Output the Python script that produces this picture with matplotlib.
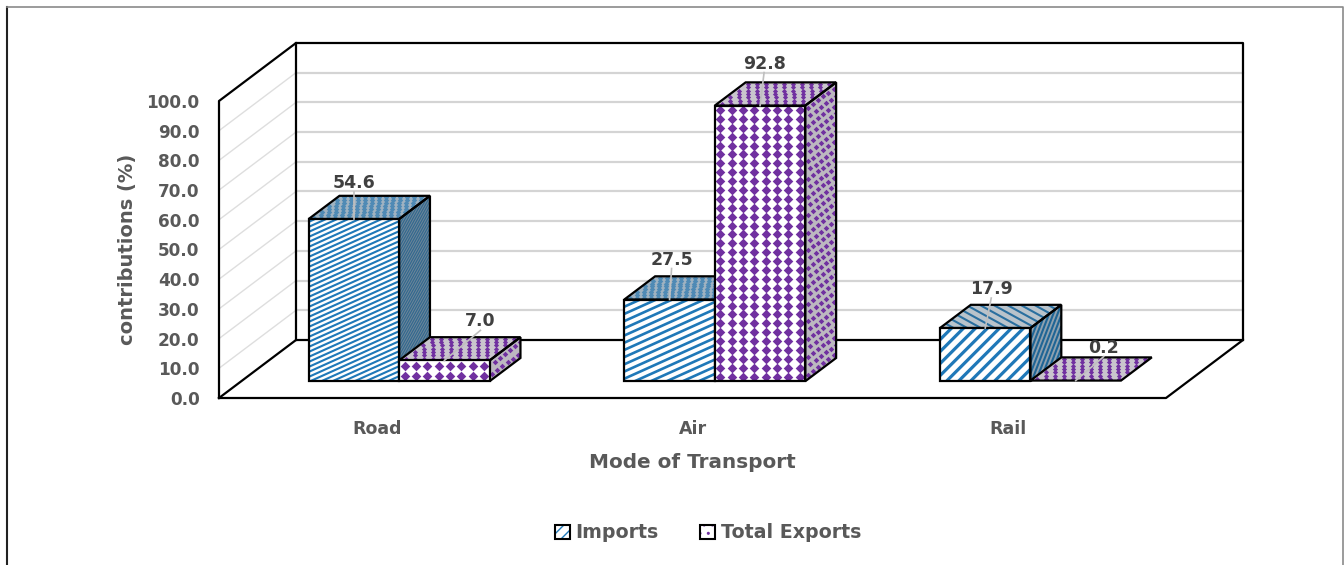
import matplotlib
matplotlib.use("Agg")
import matplotlib.pyplot as plt
from matplotlib.patches import Polygon, Patch, Rectangle
from matplotlib.collections import LineCollection
from matplotlib.legend_handler import HandlerPatch
from matplotlib.transforms import IdentityTransform
import numpy as np

categories = ["Road", "Air", "Rail"]
imports = [54.6, 27.5, 17.9]
exports = [7.0, 92.8, 0.2]
imports_labels = ["54.6", "27.5", "17.9"]
exports_labels = ["7.0", "92.8", "0.2"]
yticks = [0, 10, 20, 30, 40, 50, 60, 70, 80, 90, 100]
series_names = ["Imports", "Total Exports"]
# label offsets from the front-top centre of each bar, in pixels
imports_offset = [(0, 36), (2, 40), (6, 39)]
exports_offset = [(36, 39), (4, 42), (28, 33)]
# front-face stripe style for the imports: slope (dy/dx), vertical spacing px, width pt
imports_stripes = [(0.45, 5.0, 1.5), (0.45, 7.2, 1.9), (1.0, 12.0, 2.3)]

W, H = 1344, 565
plt.rcParams["font.family"] = ["DejaVu Sans"]
plt.rcParams["font.weight"] = "bold"
TXT = "#595959"
BLUE = "#1f78b8"
PURPLE = "#7030a0"

fig = plt.figure(figsize=(W / 100, H / 100), dpi=100, facecolor="white")
L, R, T, B = 219, 1166, 101, 398
ax = fig.add_axes([L / W, 1 - B / H, (R - L) / W, (B - T) / H])
ax.set_xlim(0, 3)
ax.set_ylim(0, 100)
ax.patch.set_visible(False)
for s in ax.spines.values():
    s.set_visible(False)

DX = 77 / ((R - L) / 3)
DY = 58 / ((B - T) / 100)


def P(x, v, z):
    return (x + z * DX, v + z * DY)


def face(pts, fc, z, lw=0.0):
    p = Polygon(pts, closed=True, facecolor=fc, edgecolor="black", linewidth=lw,
                zorder=z, clip_on=False, joinstyle="miter")
    ax.add_patch(p)
    return p


def stripes(patch, pts, slope, spacing, lw, color, z):
    """Clipped parallel lines across a face, set out in display pixels."""
    d = ax.transData.transform(pts)
    x0, x1 = d[:, 0].min(), d[:, 0].max()
    y0, y1 = d[:, 1].min(), d[:, 1].max()
    c0 = y0 - slope * x1 - spacing
    c1 = y1 - slope * x0 + spacing
    if slope < 0:
        c0, c1 = y0 - slope * x0 - spacing, y1 - slope * x1 + spacing
    segs = [[(x0, slope * x0 + c), (x1, slope * x1 + c)] for c in np.arange(c0, c1, spacing)]
    lc = LineCollection(segs, colors=color, linewidths=lw, transform=IdentityTransform(), zorder=z)
    ax.add_collection(lc, autolim=False)
    lc.set_clip_path(patch)


def dots(patch, pts, dx, dy, size, color, z, marker="D", stagger=0.0):
    """Clipped grid of filled marks across a face, set out along its two edges."""
    d = ax.transData.transform(pts)
    o, e1, e2 = d[0], d[1] - d[0], d[3] - d[0]
    n1 = max(1, int(round(np.hypot(*e1) / dx)))
    n2 = max(1, int(round(np.hypot(*e2) / dy)))
    xy = []
    for j in range(n2):
        for i in range(n1 + 1):
            u = (i + 0.5 + (stagger if j % 2 else 0)) / n1
            xy.append(o + u * e1 + (j + 0.5) / n2 * e2)
    xy = np.array(xy)
    sc = ax.scatter(xy[:, 0], xy[:, 1], s=size, c=color, marker=marker, linewidths=0,
                    transform=IdentityTransform(), zorder=z)
    sc.set_clip_path(patch)


def outline(pts, z):
    ax.add_patch(Polygon(pts, closed=True, fill=False, edgecolor="black", linewidth=1.6,
                         zorder=z, clip_on=False, joinstyle="miter"))


# gridlines
for v in yticks[1:-1]:
    ax.plot(*zip(P(0, v, 0), P(0, v, 1)), color="#dedede", lw=1.0, zorder=1, clip_on=False)
    ax.plot(*zip(P(0, v, 1), P(3, v, 1)), color="#d4d4d4", lw=1.6, zorder=1, clip_on=False)

wall = dict(color="black", lw=1.6, zorder=2, clip_on=False, solid_capstyle="projecting")
ax.plot(*zip(P(0, 0, 0), P(0, 100, 0), P(0, 100, 1), P(3, 100, 1), P(3, 0, 1), P(3, 0, 0), P(0, 0, 0)), **wall)
ax.plot(*zip(P(0, 0, 0), P(0, 0, 1), P(3, 0, 1)), **wall)
ax.plot(*zip(P(0, 0, 1), P(0, 100, 1)), **wall)

BW = 90.5 / ((R - L) / 3)
Z0, Z1 = 0.29, 0.69


def faces(x0, v):
    x1 = x0 + BW
    top = [P(x0, v, Z0), P(x1, v, Z0), P(x1, v, Z1), P(x0, v, Z1)]
    side = [P(x1, 0, Z0), P(x1, 0, Z1), P(x1, v, Z1), P(x1, v, Z0)]
    front = [P(x0, 0, Z0), P(x1, 0, Z0), P(x1, v, Z0), P(x0, v, Z0)]
    return front, side, top


def imports_bar(x0, v, st):
    front, side, top = faces(x0, v)
    slope, sp, lw = st
    if slope == 1.0:
        p = face(top, "#b9c3cb", 3)
        stripes(p, top, -0.55, 7.5, 1.5, "#2a6f9f", 3.1)
    else:
        p = face(top, "#9fb2c1", 3)
        dots(p, top, 7, 5, 8, "#4f8ab5", 3.1, stagger=0.5)
    outline(top, 3.2)
    if slope == 1.0:
        p = face(side, "#8fa1af", 3)
        stripes(p, side, 2.6, 11.0, 1.5, "#1f6595", 3.1)
    else:
        p = face(side, "#71889a", 3)
        stripes(p, side, 1.8, 4.5, 0.9, "#33698f", 3.1)
    outline(side, 3.2)
    p = face(front, "white", 3.3)
    stripes(p, front, slope, sp, lw, BLUE, 3.4)
    outline(front, 3.5)


def exports_bar(x0, v):
    front, side, top = faces(x0, v)
    p = face(top, "#c9c5cd", 5)
    dots(p, top, 9.5, 5.5, 7, PURPLE, 5.1, stagger=0.5)
    outline(top, 5.2)
    if v > 0.5:
        p = face(side, "#bcb8c0", 5)
        dots(p, side, 6.5, 9.0, 8, PURPLE, 5.1, stagger=0.5)
        outline(side, 5.2)
        p = face(front, "white", 5.3)
        dots(p, front, 11.1, 9.0, 24, PURPLE, 5.4)
        outline(front, 5.5)


def value_label(x0, v, s, off):
    xm, ym = P(x0 + BW / 2, v, Z0)
    px, py = ax.transData.transform((xm, ym))
    tx, ty = px + off[0], py + off[1]
    ax.plot([px, tx], [py, ty - 9], color="#bfbfbf", lw=1.2, zorder=7,
            transform=IdentityTransform(), clip_on=False)
    ax.text(tx, ty, s, ha="center", va="center", fontsize=12.5, color="#404040", fontweight="bold",
            transform=IdentityTransform(), zorder=8, clip_on=False)


for i in range(len(categories)):
    c = i + 0.5
    imports_bar(c - BW, imports[i], imports_stripes[i])
    exports_bar(c, exports[i])
    value_label(c - BW, imports[i], imports_labels[i], imports_offset[i])
    value_label(c, exports[i], exports_labels[i], exports_offset[i])

ax.set_yticks(yticks)
ax.set_yticklabels([f"{v:.1f}" for v in yticks], fontsize=12.2, color=TXT, fontweight="bold")
ax.set_xticks([0.5, 1.5, 2.5])
ax.set_xticklabels(categories, fontsize=12.5, color=TXT, fontweight="bold")
ax.tick_params(axis="y", length=0, pad=14)
ax.tick_params(axis="x", length=0, pad=16)
ax.set_xlabel("Mode of Transport", fontsize=14.4, color=TXT, fontweight="bold", labelpad=11)
ax.set_ylabel("contributions (%)", fontsize=14, color=TXT, fontweight="bold", labelpad=6.5)


class FramedSwatch(HandlerPatch):
    """Legend swatch: hatch in the series colour, black frame round it."""

    def create_artists(self, legend, orig, xd, yd, width, height, fontsize, trans):
        inner = Rectangle((-xd, -yd), width, height, facecolor="white", edgecolor=orig.get_edgecolor(),
                          hatch=orig.get_hatch(), linewidth=0, transform=trans)
        frame = Rectangle((-xd, -yd), width, height, fill=False, edgecolor="black",
                          linewidth=1.5, transform=trans)
        return [inner, frame]


handles = [
    Patch(facecolor="white", edgecolor=BLUE, hatch="///", label=series_names[0]),
    Patch(facecolor="white", edgecolor=PURPLE, hatch="..", label=series_names[1]),
]
leg = fig.legend(handles=handles, loc="center", bbox_to_anchor=(708 / W, 1 - 533 / H), ncol=2,
                 frameon=False, fontsize=13.7, handlelength=0.8, handleheight=0.8,
                 columnspacing=2.15, handletextpad=0.3, labelcolor=TXT,
                 handler_map={Patch: FramedSwatch()})

# picture frame: dark on the left, grey along the top and right, open at the bottom
fig.add_artist(plt.Line2D([7 / W, 7 / W], [0, 1 - 7 / H], color="#222222", lw=1.5, transform=fig.transFigure))
fig.add_artist(plt.Line2D([7 / W, 1343 / W, 1343 / W], [1 - 7 / H, 1 - 7 / H, 0], color="#8a8a8a",
                          lw=1.2, transform=fig.transFigure))
fig.savefig("out.png", dpi=100)
